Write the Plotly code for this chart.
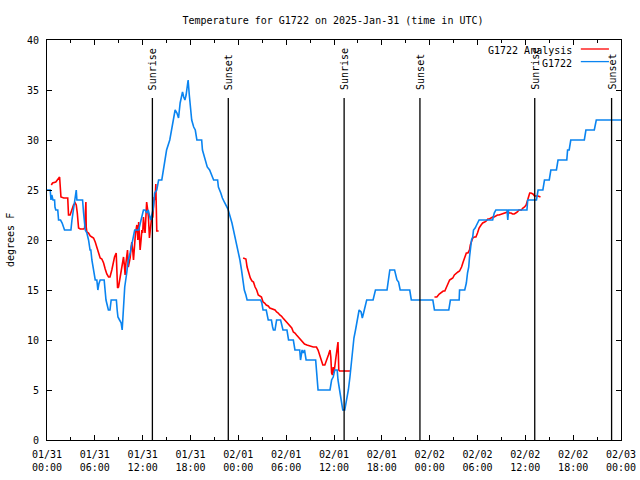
import pandas as pd
import plotly.graph_objects as go

# ---------------- data ----------------
start = "2025-01-31 00:00"

# G1722 observed (hours after start, deg F)
obs_hours = [0.0, 0.4, 0.5, 0.6, 0.75, 0.95, 1.0, 1.1, 1.35, 1.45, 1.7, 1.9, 2.2, 3.0, 3.13, 3.33, 3.46,
             3.67, 3.75, 4.46, 4.59, 4.7, 4.8, 5.0, 5.21, 5.4, 5.5, 5.63, 5.85, 6.05, 6.25, 6.38, 6.5,
             6.67, 7.17, 7.25, 7.4, 7.7, 7.9, 8.05, 8.7, 8.8, 8.9, 9.1, 9.3, 9.43, 9.5, 9.6, 9.75, 10.0,
             10.2, 10.43, 10.64, 10.85, 11.0, 11.5, 11.65, 11.8, 12.1, 12.3, 12.5, 12.7, 12.9, 13.0,
             13.15, 13.3, 13.4, 13.5, 13.77, 14.0, 14.4, 14.6, 14.8, 15.0, 15.4, 15.65, 15.86, 16.07,
             16.3, 16.5, 16.7, 16.85, 17.0, 17.15, 17.3, 17.45, 17.6, 17.7, 17.85, 18.0, 18.15, 18.4,
             18.6, 18.8, 19.4, 19.5, 19.8, 20.1, 20.4, 20.7, 20.9, 21.4, 21.5, 21.8, 22.0, 22.3, 22.7,
             23.2, 23.4, 23.6, 23.8, 24.0, 24.2, 24.4, 24.6, 24.75, 24.95, 25.1, 26.8, 26.95, 27.1,
             27.5, 27.75, 28.15, 28.3, 28.4, 28.6, 28.8, 29.3, 29.45, 29.6, 30.1, 30.3, 30.9, 31.1,
             31.7, 31.8, 32.0, 32.15, 32.3, 32.5, 33.7, 33.9, 34.0, 35.5, 35.7, 35.9, 36.1, 36.4, 36.5,
             36.7, 36.9, 37.1, 37.35, 37.6, 37.8, 38.0, 38.15, 38.3, 38.4, 38.5, 38.7, 38.8, 38.9,
             39.15, 39.4, 39.55, 39.65, 39.9, 40.0, 40.1, 40.9, 41.1, 41.2, 42.65, 42.8, 43.0, 43.6,
             43.75, 43.9, 44.1, 44.3, 45.5, 45.7, 48.4, 48.6, 50.4, 50.6, 51.7, 51.75, 52.4, 52.6,
             52.75, 52.9, 53.0, 53.1, 53.25, 53.4, 53.5, 53.7, 54.0, 54.2, 55.9, 56.1, 56.3, 57.7,
             57.8, 57.9, 60.2, 60.3, 61.4, 61.6, 62.2, 62.4, 63.0, 63.2, 63.9, 64.1, 65.2, 65.3, 65.5,
             65.7, 67.4, 67.6, 68.65, 68.9, 72.0]
obs_temp = [25, 25, 24, 24.5, 24, 24, 23.3, 23, 23, 22, 22, 21.7, 21, 21, 22, 23, 24,
            25, 24, 24, 22.7, 21.3, 21, 20.7, 20, 19, 19, 18, 17, 16, 16, 15, 15.6,
            16, 16, 15, 14, 13, 13, 14, 14, 13, 12.3, 12, 11.7, 11, 12, 14.3, 15.3, 16.7,
            18, 18.7, 19.7, 20.3, 21, 21, 21.7, 22, 23, 23, 22.7, 23, 22.3, 22,
            22.5, 23, 23.7, 24.7, 25, 26, 26, 27, 28, 29, 30, 31, 32, 33,
            32.7, 32.2, 33.7, 34.3, 34.8, 34.3, 34, 34.5, 35.3, 36, 34.5, 32.8, 32, 31.3,
            31, 30, 30, 29, 28, 27.3, 27, 26.3, 26, 26, 25.3, 24.7, 24.2, 23.7, 23.1,
            21.7, 21, 20.3, 19.7, 18.8, 18, 17, 16, 15, 14.5, 14, 14, 13.7, 13,
            13, 12, 12, 11.3, 11, 11, 12, 12, 11.3, 11, 11, 10, 10, 9,
            9, 8, 9, 8.7, 9, 8, 8, 6, 5, 5, 6, 6.3, 7, 7, 6,
            5, 4, 3, 3, 4, 5, 6.3, 7.5, 8, 9, 10.2, 11, 11.5, 12,
            13, 12.8, 12.2, 12.5, 13.2, 13.7, 14, 14, 14.8, 15, 15, 16, 17, 17,
            16.5, 16, 15.8, 15, 15, 14, 14, 13, 13, 14, 14, 15, 15, 15.7,
            16.7, 17.3, 18.3, 19.3, 20, 20.3, 21, 21.2, 21.7, 22, 22, 22.7, 23, 23,
            22, 23, 23, 24, 24, 25, 25, 26, 26, 27, 27, 28, 28, 29, 29,
            30, 30, 31, 31, 32, 32]

# G1722 Analysis (None = gap)
ana_hours = [0.54, 0.7, 1.1, 1.46, 1.58, 1.75, 2.1, 2.6, 2.7, 2.9, 3.13, 3.33, 3.54, 3.67, 3.8, 3.96,
             4.17, 4.59, 4.72, 4.88, 4.92, 5.0, 5.21, 5.42, 5.63, 5.84, 6.05, 6.25, 6.46, 6.67, 6.88,
             7.1, 7.3, 7.5, 7.72, 7.9, 8.13, 8.3, 8.47, 8.68, 8.76, 8.85, 8.97, 9.18, 9.4, 9.6, 9.7,
             9.8, 9.9, 10.0, 10.1, 10.2, 10.43, 10.55, 10.64, 10.75, 10.85, 10.97, 11.1, 11.27, 11.4,
             11.5, 11.6, 11.68, 11.8, 11.9, 12.0, 12.1, 12.2, 12.3, 12.43, 12.5, 12.6, 12.72, 12.85,
             12.9, 13.0, 13.1, 13.27, 13.35, 13.44, 13.55, 13.65, 13.77, 14.0,
             None,
             24.6, 24.95, 25.1, 25.3, 25.5, 25.7, 25.9, 26.1, 26.3, 26.5, 26.7, 26.9, 27.1, 27.3,
             27.5, 27.75, 27.95, 28.4, 28.6, 28.8, 29.0, 29.2, 29.4, 29.6, 29.8, 30.05, 30.3, 30.5,
             30.7, 30.9, 31.1, 31.3, 31.5, 31.7, 31.9, 32.1, 32.3, 32.6, 33.0, 33.4, 33.8, 34.0, 34.2,
             34.4, 34.6, 34.85, 35.1, 35.3, 35.5, 35.6, 35.7, 35.8, 35.9, 36.0, 36.2, 36.3, 36.4,
             36.5, 36.6, 36.7, 38.0,
             None,
             48.6, 48.9, 49.2, 49.5, 49.7, 49.9, 50.1, 50.3, 50.5, 50.7, 50.9, 51.1, 51.35, 51.55,
             51.75, 52.0, 52.2, 52.4, 52.6, 52.8, 53.0, 53.1, 53.25, 53.4, 53.6, 53.8, 54.0, 54.2,
             54.45, 54.65, 54.9, 55.1, 55.3, 55.5, 55.7, 55.9, 56.1, 56.3, 56.5, 56.7, 57.0, 57.2,
             57.4, 57.6, 57.8, 58.0, 58.2, 58.4, 58.6, 58.8, 59.0, 59.2, 59.5, 59.7, 59.9, 60.1,
             60.2, 60.3, 60.4, 60.55, 60.7, 60.95, 61.15, 61.4, 61.6, 61.9]
ana_temp = [25.5, 25.7, 25.8, 26.2, 26.3, 24.3, 24.2, 24.2, 22.5, 22.5, 23, 23.5, 23.7, 23.5, 22.7, 21.2,
            21.1, 21.1, 21.2, 23.8, 21.3, 20.8, 20.7, 20.4, 20.3, 20.2, 19.8, 19.2, 18.7, 18.2, 18.1,
            17.7, 17.1, 16.6, 16.3, 16.3, 17, 17.7, 18.3, 18.7, 15.3, 15.2, 15.3, 16.3, 17.3, 18.3, 17.5,
            16.5, 17.7, 18.7, 19, 17.3, 18.2, 19.3, 19.8, 19, 18, 19.3, 20.7, 21.5, 20,
            21.8, 20.3, 19, 20, 21, 20.7, 22.3, 21.3, 20.7, 22.7, 23.8, 23.2, 22.3, 20.2,
            20.7, 22, 22.1, 22.3, 23.3, 24.3, 24, 25.6, 20.9, 20.9,
            None,
            18.2, 18.1, 17.3, 16.7, 16.2, 15.9, 15.8, 15.3, 15, 14.5, 14.4, 14.3, 13.8, 13.7,
            13.5, 13.4, 13.2, 13.1, 13, 12.8, 12.7, 12.5, 12.4, 12.2, 12, 11.8, 11.5, 11.3,
            11.2, 10.8, 10.7, 10.5, 10.3, 10.2, 10, 9.8, 9.6, 9.5, 9.4, 9.3, 9.3, 9, 8.5,
            8, 7.5, 7.5, 8, 8.5, 9, 8.3, 6.7, 6.5, 7.3, 6.7, 8, 8.7, 9.3,
            9.8, 7, 6.9, 6.9,
            None,
            14.3, 14.3, 14.6, 14.8, 14.9, 14.9, 15.3, 15.7, 16, 16.1, 16.2, 16.5, 16.7, 16.8,
            16.9, 17.3, 17.8, 18.3, 18.7, 18.7, 19, 19.5, 19.8, 20.2, 20.3, 20.3, 20.7, 21.2,
            21.5, 21.7, 21.8, 21.9, 22.1, 22.1, 22.2, 22.3, 22.3, 22.4, 22.5, 22.5, 22.6, 22.6,
            22.7, 22.8, 22.8, 22.7, 22.7, 22.6, 22.6, 22.7, 22.8, 23, 23, 23.2, 23.3, 23.5,
            23.8, 24.2, 24.5, 24.7, 24.7, 24.6, 24.4, 24.4, 24.4, 24.3]

sunrise_hours = [13.22, 37.27, 61.18]
sunset_hours = [22.74, 46.78, 70.82]

tick_hours = list(range(0, 73, 6))
tick_labels = ["01/31<br>00:00", "01/31<br>06:00", "01/31<br>12:00", "01/31<br>18:00",
               "02/01<br>00:00", "02/01<br>06:00", "02/01<br>12:00", "02/01<br>18:00",
               "02/02<br>00:00", "02/02<br>06:00", "02/02<br>12:00", "02/02<br>18:00",
               "02/03<br>00:00"]

# ---------------- figure ----------------
t0 = pd.Timestamp(start)
def to_time(hs):
    return [None if h is None else t0 + pd.Timedelta(hours=h) for h in hs]

FONT = "DejaVu Sans Mono"
RED = "#ff0000"
BLUE = "#0a84f0"
L, R, T, B = 47, 19, 40, 40
PW = 640 - L - R

fig = go.Figure()
fig.add_trace(go.Scatter(x=to_time(ana_hours), y=ana_temp, mode="lines", name="G1722 Analysis",
                         line=dict(color=RED, width=1.6), connectgaps=False, hoverinfo="skip"))
fig.add_trace(go.Scatter(x=to_time(obs_hours), y=obs_temp, mode="lines", name="G1722",
                         line=dict(color=BLUE, width=1.6), hoverinfo="skip"))

line_top = 0.855
label_y = 0.87
for hs, lab in [(sunrise_hours, "Sunrise"), (sunset_hours, "Sunset")]:
    for h in hs:
        t = t0 + pd.Timedelta(hours=h)
        fig.add_shape(type="line", xref="x", yref="paper", x0=t, x1=t, y0=0, y1=line_top,
                      line=dict(color="black", width=1.3))
        fig.add_annotation(x=t, y=label_y, xref="x", yref="paper", text=lab, textangle=-90,
                           showarrow=False, xanchor="center", yanchor="bottom",
                           font=dict(family=FONT, size=10, color="black"))

# legend drawn as text + sample lines
leg = [("G1722 Analysis", RED, 0.9775, 0.975), ("G1722", BLUE, 0.946, 0.9425)]
for txt, col, ly, ty in leg:
    fig.add_annotation(x=0.918, y=ty, xref="paper", yref="paper", text=txt, showarrow=False,
                       xanchor="right", yanchor="middle", font=dict(family=FONT, size=10, color="black"))
    fig.add_shape(type="line", xref="paper", yref="paper", x0=0.930, x1=0.979, y0=ly, y1=ly,
                  line=dict(color=col, width=1.3))

# y-axis label
fig.add_annotation(x=(10 - L) / PW, y=0.5, xref="paper", yref="paper", text="degrees F",
                   textangle=-90, showarrow=False, xanchor="center", yanchor="middle",
                   font=dict(family=FONT, size=10, color="black"))

fig.update_layout(
    width=640, height=480,
    margin=dict(l=L, r=R, t=T, b=B, autoexpand=False),
    paper_bgcolor="white", plot_bgcolor="white",
    showlegend=False,
    font=dict(family=FONT, size=10, color="black"),
    title=dict(text="Temperature for G1722 on 2025-Jan-31 (time in UTC)", x=333 / 640, xanchor="center",
               y=1 - 20 / 480, yanchor="middle", font=dict(family=FONT, size=10, color="black")),
)
fig.update_xaxes(
    range=[t0, t0 + pd.Timedelta(hours=72)],
    tickvals=to_time(tick_hours), ticktext=tick_labels,
    ticks="inside", ticklen=5, tickcolor="black", tickwidth=1,
    minor=dict(tickvals=to_time(list(range(3, 72, 6))), ticks="inside", ticklen=3, tickcolor="black"),
    showline=True, linecolor="black", linewidth=1, mirror="allticks",
    showgrid=False, zeroline=False, tickfont=dict(family=FONT, size=10),
    automargin=False, ticklabelstandoff=5,
)
fig.update_yaxes(
    range=[0, 40], dtick=5, tick0=0,
    ticks="inside", ticklen=5, tickcolor="black", tickwidth=1,
    showline=True, linecolor="black", linewidth=1, mirror="allticks",
    showgrid=False, zeroline=False, tickfont=dict(family=FONT, size=10),
    automargin=False, ticklabelstandoff=5,
)

fig.write_html("out.html", config={"displayModeBar": False},
               post_script="document.body.style.margin='0';")
